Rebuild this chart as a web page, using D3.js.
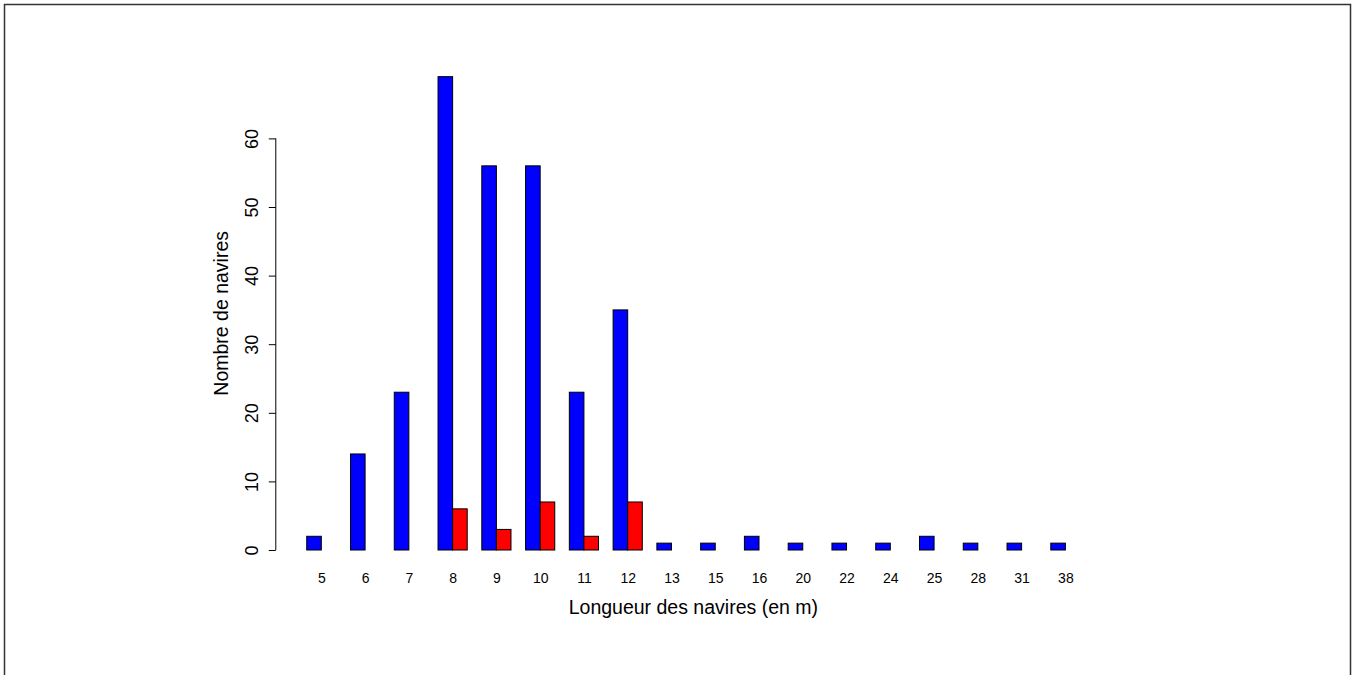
<!DOCTYPE html>
<html>
<head>
<meta charset="utf-8">
<script src="https://cdn.jsdelivr.net/npm/d3@7"></script>
<style>
  body { margin: 0; background: #fff; }
  svg { display: block; font-family: "Liberation Sans", Arial, sans-serif; }
</style>
</head>
<body>
<div id="chart"></div>
<script>
// Longueurs des navires (catégories) et effectifs des deux séries
const longueurs = ["5", "6", "7", "8", "9", "10", "11", "12", "13", "15", "16", "20", "22", "24", "25", "28", "31", "38"];
const serieBleue = [2, 14, 23, 69, 56, 56, 23, 35, 1, 1, 2, 1, 1, 1, 2, 1, 1, 1];
const serieRouge = [0, 0, 0, 6, 3, 7, 2, 7, 0, 0, 0, 0, 0, 0, 0, 0, 0, 0];
const yTicks = [0, 10, 20, 30, 40, 50, 60];

const width = 1352, height = 675;

const svg = d3.select("#chart").append("svg")
  .attr("width", width)
  .attr("height", height);

// cadre autour de la figure
svg.append("rect")
  .attr("x", 4.5).attr("y", 4.5)
  .attr("width", 1346).attr("height", 720)
  .attr("fill", "none")
  .attr("stroke", "#333")
  .attr("stroke-width", 1.5);

// barplot façon R : groupes de 2 barres, espace de 1 avant chaque groupe
const n = longueurs.length;
const xMin = 1, xMax = 3 * n;
const pad = (xMax - xMin) * 0.04;
const x = d3.scaleLinear()
  .domain([xMin - pad, xMax + pad])
  .range([275.8, 1110.9]);

const y = d3.scaleLinear()
  .domain([0, 69])
  .range([550, 550 - 69 * 6.86]);

const groupes = longueurs.map((l, i) => ({
  label: l, bleu: serieBleue[i], rouge: serieRouge[i], debut: 1 + 3 * i
}));

// barres bleues
svg.append("g").selectAll("rect")
  .data(groupes)
  .join("rect")
  .attr("x", d => x(d.debut))
  .attr("y", d => y(d.bleu))
  .attr("width", d => x(d.debut + 1) - x(d.debut))
  .attr("height", d => y(0) - y(d.bleu))
  .attr("fill", "#0000ff")
  .attr("stroke", "#000")
  .attr("stroke-width", 1);

// barres rouges (les zéros ne sont pas dessinés)
svg.append("g").selectAll("rect")
  .data(groupes.filter(d => d.rouge > 0))
  .join("rect")
  .attr("x", d => x(d.debut + 1))
  .attr("y", d => y(d.rouge))
  .attr("width", d => x(d.debut + 2) - x(d.debut + 1))
  .attr("height", d => y(0) - y(d.rouge))
  .attr("fill", "#ff0000")
  .attr("stroke", "#000")
  .attr("stroke-width", 1);

// axe y
const axeY = svg.append("g")
  .attr("transform", `translate(${x(xMin - pad)},0)`)
  .call(d3.axisLeft(y).tickValues(yTicks).tickSize(7).tickSizeOuter(0));
axeY.select(".domain").remove();
axeY.append("line")
  .attr("y1", y(0)).attr("y2", y(60))
  .attr("stroke", "#000");
axeY.selectAll(".tick line").attr("stroke", "#000");
axeY.selectAll(".tick text")
  .attr("transform", "rotate(-90)")
  .attr("x", 0)
  .attr("y", -18)
  .attr("dy", null)
  .attr("text-anchor", "middle")
  .attr("fill", "#000")
  .style("font-size", "18px")
  .style("font-family", "'Liberation Sans', Arial, sans-serif");

// étiquettes de l'axe x (sans ligne d'axe)
const axeX = svg.append("g")
  .attr("transform", "translate(0,573)")
  .call(d3.axisBottom(x)
    .tickValues(groupes.map(d => d.debut + 1))
    .tickFormat((d, i) => longueurs[i])
    .tickSize(0).tickPadding(0));
axeX.select(".domain").remove();
axeX.selectAll(".tick text")
  .attr("fill", "#000")
  .style("font-size", "14px")
  .style("font-family", "'Liberation Sans', Arial, sans-serif");

// titres des axes
svg.append("text")
  .attr("x", (x.range()[0] + x.range()[1]) / 2)
  .attr("y", 614)
  .attr("text-anchor", "middle")
  .style("font-size", "19.5px")
  .text("Longueur des navires (en m)");

svg.append("text")
  .attr("transform", `translate(228,${(y(-2.76) + y(71.76)) / 2}) rotate(-90)`)
  .attr("text-anchor", "middle")
  .style("font-size", "19.5px")
  .text("Nombre de navires");
</script>
</body>
</html>
